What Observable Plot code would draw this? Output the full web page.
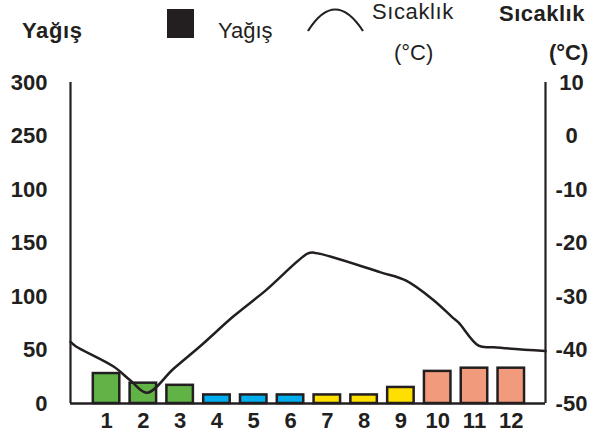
<!DOCTYPE html>
<html><head><meta charset="utf-8">
<script src="https://cdn.jsdelivr.net/npm/d3@7"></script>
<script src="https://cdn.jsdelivr.net/npm/@observablehq/plot@0.6"></script>
<style>
body{margin:0;background:#fff;}
#wrap{width:589px;height:436px;position:relative;overflow:hidden;}
#legend{display:block;}
#legend text{font-family:"Liberation Sans",Arial,sans-serif;font-size:22px;fill:#231f20;}
#chart svg{display:block;}
</style></head><body><div id="wrap">
<svg id="legend" width="589" height="68" viewBox="0 0 589 68">
  <text x="22" y="38" font-weight="bold" letter-spacing="0.6">Yağış</text>
  <rect x="167" y="9" width="27" height="29" fill="#231f20"/>
  <text x="218" y="38">Yağış</text>
  <path d="M308,31 Q335,-12 363,31" fill="none" stroke="#231f20" stroke-width="2.2"/>
  <text x="372" y="19" letter-spacing="0.6">Sıcaklık</text>
  <text x="394" y="60">(°C)</text>
  <text x="499" y="21" font-weight="bold" letter-spacing="0.5">Sıcaklık</text>
  <text x="549" y="60" font-weight="bold">(°C)</text>
</svg>
<div id="chart"></div>
</div>
<script>
const months = [1,2,3,4,5,6,7,8,9,10,11,12];
const precipitation = [28,19,17,8,8,8,8,8,15,30,33,33];
const barColors = ["#62b346","#62b346","#62b346","#00aeef","#00aeef","#00aeef","#ffdf00","#ffdf00","#ffdf00","#f29b7c","#f29b7c","#f29b7c"];
const tempMonth = [0.02,0.16,1.19,1.65,2.1,2.82,3.56,4.45,5.32,6.46,6.63,8.45,9.13,9.89,10.4,10.57,11.11,11.52,12.93];
const tempValue = [-38.5,-39.3,-43.1,-45.7,-48.0,-43.5,-39.2,-33.7,-28.9,-22.0,-21.8,-25.5,-27.0,-30.7,-33.9,-34.9,-39.2,-39.5,-40.2];
const leftTickValues = [0,50,100,150,200,250,300];
const leftTickLabels = ["0","50","100","150","100","250","300"];
const rightTickValues = [-50,-40,-30,-20,-10,0,10];
const rightTickLabels = ["-50","-40","-30","-20","-10","0","10"];

const ink = "#231f20";
const xDomain = [0.02, 12.93];
const toY = t => (t + 50) * 5;

const bars = months.map((m, i) => ({month: m, value: precipitation[i], color: barColors[i]}));
const temps = tempMonth.map((m, i) => ({m, t: tempValue[i]}));

const chart = Plot.plot({
  width: 589,
  height: 368,
  marginTop: 14,
  marginBottom: 33,
  marginLeft: 70,
  marginRight: 44,
  style: {fontFamily: "'Liberation Sans', Arial, sans-serif", fontSize: "22px", fontWeight: "bold", color: ink, background: "#fff"},
  x: {domain: xDomain, axis: null},
  y: {domain: [0, 300], axis: null},
  color: {type: "identity"},
  marks: [
    Plot.rectY(bars, {x1: d => d.month - 0.36, x2: d => d.month + 0.36, y1: 0, y2: "value", fill: "color", stroke: ink, strokeWidth: 2.5}),
    Plot.line(temps, {x: "m", y: d => toY(d.t), stroke: ink, strokeWidth: 2.5, curve: "catmull-rom"}),
    Plot.ruleY([0], {stroke: ink, strokeWidth: 2.4}),
    Plot.ruleX(xDomain, {y1: 0, y2: 300, stroke: ink, strokeWidth: 2.2}),
    Plot.axisY(leftTickValues, {anchor: "left", label: null, tickSize: 0, tickPadding: 23, tickFormat: d => leftTickLabels[leftTickValues.indexOf(d)], fill: ink, fontSize: 22, fontWeight: "bold"}),
    Plot.axisY(rightTickValues.map(toY), {anchor: "right", label: null, tickSize: 0, tickPadding: 26, textAnchor: "middle", tickFormat: d => rightTickLabels[rightTickValues.indexOf(d / 5 - 50)], fill: ink, fontSize: 22, fontWeight: "bold"}),
    Plot.axisX(months, {anchor: "bottom", label: null, tickSize: 0, tickPadding: 9, tickFormat: d => String(d), fill: ink, fontSize: 22, fontWeight: "bold"})
  ]
});
document.getElementById("chart").appendChild(chart);
</script>
</body></html>
